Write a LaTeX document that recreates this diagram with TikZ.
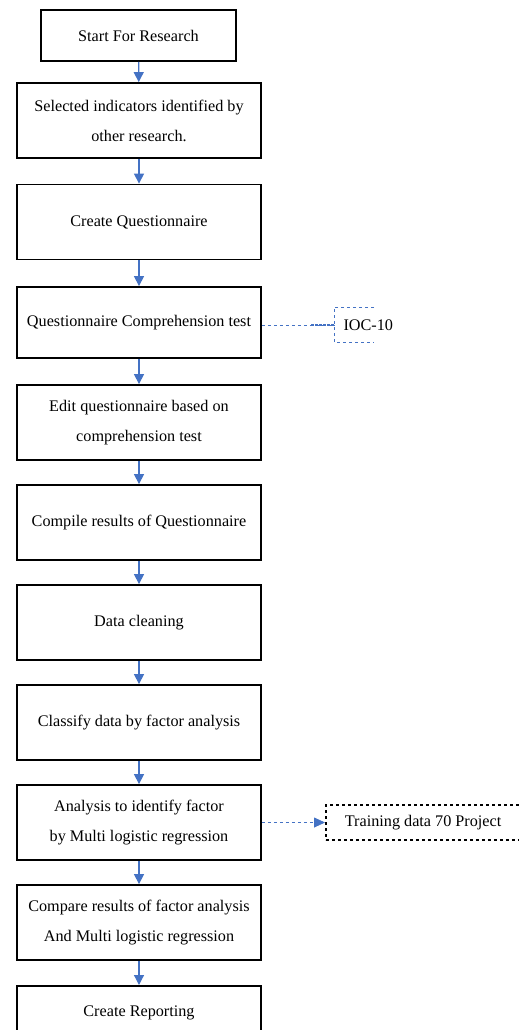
\documentclass[tikz,border=0pt]{standalone}
\usepackage{fontspec}
\setmainfont{Liberation Serif}
\usetikzlibrary{positioning,arrows.meta}

\definecolor{flowblue}{RGB}{68,114,196}

\begin{document}
\begin{tikzpicture}[x=1pt,y=-1pt,node distance=100pt,on grid,
	stepbox/.style={draw,line width=1.8pt,minimum width=244pt,minimum height=75pt,
		align=center,font=\fontsize{16.2}{30}\selectfont},
	flow/.style={flowblue,line width=1.2pt,-{Triangle[length=10pt,width=10pt]}},
	side/.style={flowblue,dashed,line width=0.8pt}]
	\useasboundingbox (0,0) rectangle (519,1030);
	\clip (0,0) rectangle (519,1030);
	\node[stepbox,minimum width=195pt,minimum height=51pt] (start) at (138.5,35.5) {Start For Research};
	\node[stepbox] (select) at (139,120.5) {Selected indicators identified by\\other research.};
	\node[stepbox] (create) [below=101.5pt of select] {Create Questionnaire};
	\node[stepbox,minimum height=71pt] (test) [below=100.5pt of create] {Questionnaire Comprehension test};
	\node[stepbox] (edit) [below=of test] {Edit questionnaire based on\\comprehension test};
	\node[stepbox] (compile) [below=of edit] {Compile results of Questionnaire};
	\node[stepbox] (clean) [below=of compile] {Data cleaning};
	\node[stepbox] (classify) [below=of clean] {Classify data by factor analysis};
	\node[stepbox] (analysis) [below=of classify] {Analysis to identify factor\\by Multi logistic regression};
	\node[stepbox] (compare) [below=of analysis] {Compare results of factor analysis\\And Multi logistic regression};
	\node[stepbox,minimum height=54pt,anchor=north] (report) at (139,985) {Create Reporting};
	% side notes
	\node[font=\fontsize{16.2}{19}\selectfont,anchor=west] (ioc) at (340,325) {IOC-10};
	\draw[side] (374,307) -| (334,342) -- (374,342);
	\node[draw,dashed,line width=1.8pt,minimum width=260pt,minimum height=35pt,anchor=west,
		font=\fontsize{16.2}{19}\selectfont,text width=230pt,inner xsep=19pt,align=flush left] (train) at (325,822.5)
		{Training data 70 Project};
	% arrows
	\foreach \a/\b in {start/select,select/create,create/test,test/edit,edit/compile,
		compile/clean,clean/classify,classify/analysis,analysis/compare,compare/report}
		\draw[flow] (\a) -- (\b);
	\draw[side] (test.east |- ioc.west) -- (334,325);
	\draw[side,line width=1.8pt,dash pattern=on 3pt off 1pt] (311,325) -- (334,325);
	\draw[side,-{Triangle[length=11pt,width=10pt]}] (analysis.east) -- (train.west);
\end{tikzpicture}
\end{document}
